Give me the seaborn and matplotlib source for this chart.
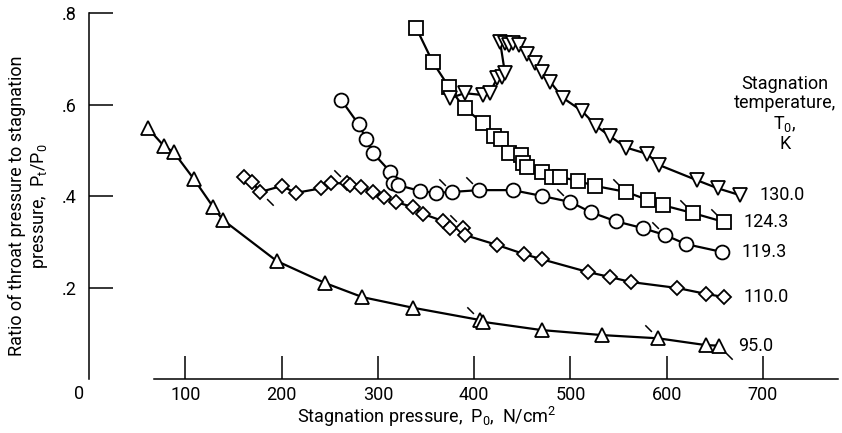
import numpy as np
import pandas as pd
import matplotlib
matplotlib.use("Agg")
import matplotlib.pyplot as plt
import seaborn as sns
from matplotlib.path import Path

# ------------------------------------------------------------------
# DATA: stagnation pressure P0 (N/cm^2) vs Pt/P0
# ------------------------------------------------------------------
temps = ["95.0", "110.0", "119.3", "124.3", "130.0"]

p0_95 = [61, 78, 88, 109, 129, 139, 195, 245, 284, 336, 406, 409, 470, 533, 591, 641, 654]
r_95 = [.549, .509, .496, .437, .376, .348, .258, .210, .179, .156, .129, .125, .107, .096, .089, .074, .073]

p0_110 = [161, 169, 178, 200, 215, 241, 251, 268, 271, 283, 295, 306, 319, 336, 347, 368,
          375, 388, 390, 424, 452, 470, 518, 541, 563, 611, 641, 660]
r_110 = [.442, .431, .409, .422, .407, .417, .428, .428, .424, .420, .409, .398, .387, .376, .361, .345,
         .330, .330, .315, .293, .273, .262, .234, .223, .212, .199, .186, .179]

p0_119 = [262, 280, 288, 295, 313, 316, 321, 344, 360, 377, 405, 440, 471, 500, 521, 547, 575, 598, 620, 657]
r_119 = [.610, .557, .525, .494, .453, .428, .424, .411, .407, .409, .413, .413, .400, .387, .365, .345,
         .330, .315, .295, .278]

p0_124 = [340, 357, 374, 390, 409, 421, 428, 436, 449, 451, 455, 470, 481, 489, 508, 526, 558, 581, 596, 627, 660]
r_124 = [.767, .693, .638, .592, .560, .532, .524, .494, .490, .472, .464, .453, .442, .442, .433, .422,
         .409, .391, .380, .363, .343]

p0_130 = [375, 390, 409, 416, 424, 429, 432, 427, 432, 436, 440, 447, 455, 463, 470, 479, 492, 512,
          527, 541, 558, 580, 592, 631, 653, 676]
r_130 = [.614, .625, .621, .625, .658, .660, .669, .737, .734, .730, .734, .730, .710, .692, .672, .650,
         .615, .586, .553, .531, .506, .492, .468, .435, .417, .402]

# flagged points (index into each series) and flag side
flags_ul = {"95.0": [10, 14], "110.0": [7, 17], "119.3": [9, 10, 13, 17], "124.3": [16, 19, 20], "130.0": []}
flags_lr = {"95.0": [16], "110.0": [2], "119.3": [], "124.3": [], "130.0": []}

xticks = [100, 200, 300, 400, 500, 600, 700]
yticks = [0.2, 0.4, 0.6, 0.8]
ytick_labels = [".2", ".4", ".6", ".8"]

series = {
    "95.0": (p0_95, r_95),
    "110.0": (p0_110, r_110),
    "119.3": (p0_119, r_119),
    "124.3": (p0_124, r_124),
    "130.0": (p0_130, r_130),
}
markers = {"95.0": "^", "110.0": "D", "119.3": "o", "124.3": "s", "130.0": "v"}
msizes = {"95.0": 10, "110.0": 7, "119.3": 10, "124.3": 9.5, "130.0": 10}

df = pd.concat(
    [pd.DataFrame({"p0": x, "ratio": y, "temp": t}) for t, (x, y) in series.items()],
    ignore_index=True,
)

# ------------------------------------------------------------------
# STYLE
# ------------------------------------------------------------------
sns.set_style("ticks")
plt.rcParams["font.family"] = ["Roboto", "DejaVu Sans"]
plt.rcParams["mathtext.fontset"] = "custom"
plt.rcParams["mathtext.rm"] = "Roboto"
plt.rcParams["font.size"] = 13
for k in ("text.color", "axes.labelcolor", "xtick.color", "ytick.color", "axes.edgecolor"):
    plt.rcParams[k] = "black"

fig = plt.figure(figsize=(8.42, 4.33), dpi=100)
ax = fig.add_axes([89 / 842, 54 / 433, 751 / 842, 375 / 433])

flag_ul = Path([(-1, 1), (-0.5, 0.5)], [Path.MOVETO, Path.LINETO])
flag_lr = Path([(1, -1), (0.5, -0.5)], [Path.MOVETO, Path.LINETO])

for t in temps:
    sub = df[df["temp"] == t].reset_index(drop=True)
    for idx, fm in ((flags_ul[t], flag_ul), (flags_lr[t], flag_lr)):
        if idx:
            ax.plot(sub.loc[idx, "p0"], sub.loc[idx, "ratio"], linestyle="none",
                    marker=fm, markersize=19, markeredgecolor="black",
                    markeredgewidth=1.1, zorder=1.5)
    sns.lineplot(data=sub, x="p0", y="ratio", sort=False, estimator=None, ax=ax,
                 color="black", lw=1.6, marker=markers[t], markersize=msizes[t],
                 markerfacecolor="white", markeredgecolor="black",
                 markeredgewidth=1.3, zorder=2)
    ax.annotate(t, xy=(sub["p0"].iloc[-1], sub["ratio"].iloc[-1]), xytext=(14, 0),
                textcoords="offset points", ha="left", va="center", fontsize=13)

# ------------------------------------------------------------------
# AXES
# ------------------------------------------------------------------
ax.set_xlim(0, 780)
ax.set_ylim(0, 0.82)
ax.set_xticks(xticks)
ax.set_yticks(yticks)
ax.set_yticklabels(ytick_labels)
ax.tick_params(axis="y", left=True, direction="in", length=17, width=1.1, pad=9, labelsize=13)
ax.tick_params(axis="x", bottom=True, direction="in", length=16.5, width=1.1, pad=5, labelsize=13)

for s in ("top", "right"):
    ax.spines[s].set_visible(False)
ax.spines["left"].set_bounds(0, 0.8)
ax.spines["bottom"].set_bounds(68, 778)
for s in ("left", "bottom"):
    ax.spines[s].set_linewidth(1.1)

ax.annotate("0", xy=(0, 0), xytext=(-7, -11), textcoords="offset points",
            ha="center", va="center", fontsize=13, annotation_clip=False)

ax.set_xlabel(r"Stagnation pressure,  P$_\mathrm{0}$,  N/cm$^\mathrm{2}$", fontsize=13)
ax.xaxis.set_label_coords(0.45, -0.07)
ax.set_ylabel("")
fig.text(29 / 842, 1 - 206 / 433,
         "Ratio of throat pressure to stagnation\n" r"pressure,  P$_\mathrm{t}$/P$_\mathrm{0}$",
         rotation=90, ha="center", va="center", multialignment="center", fontsize=13)

ax.text(723, 0.665, "Stagnation\ntemperature,\n" r"T$_\mathrm{0}$," "\nK",
        ha="center", va="top", multialignment="center", fontsize=13, linespacing=1.1)

fig.savefig("out.png", dpi=100)
